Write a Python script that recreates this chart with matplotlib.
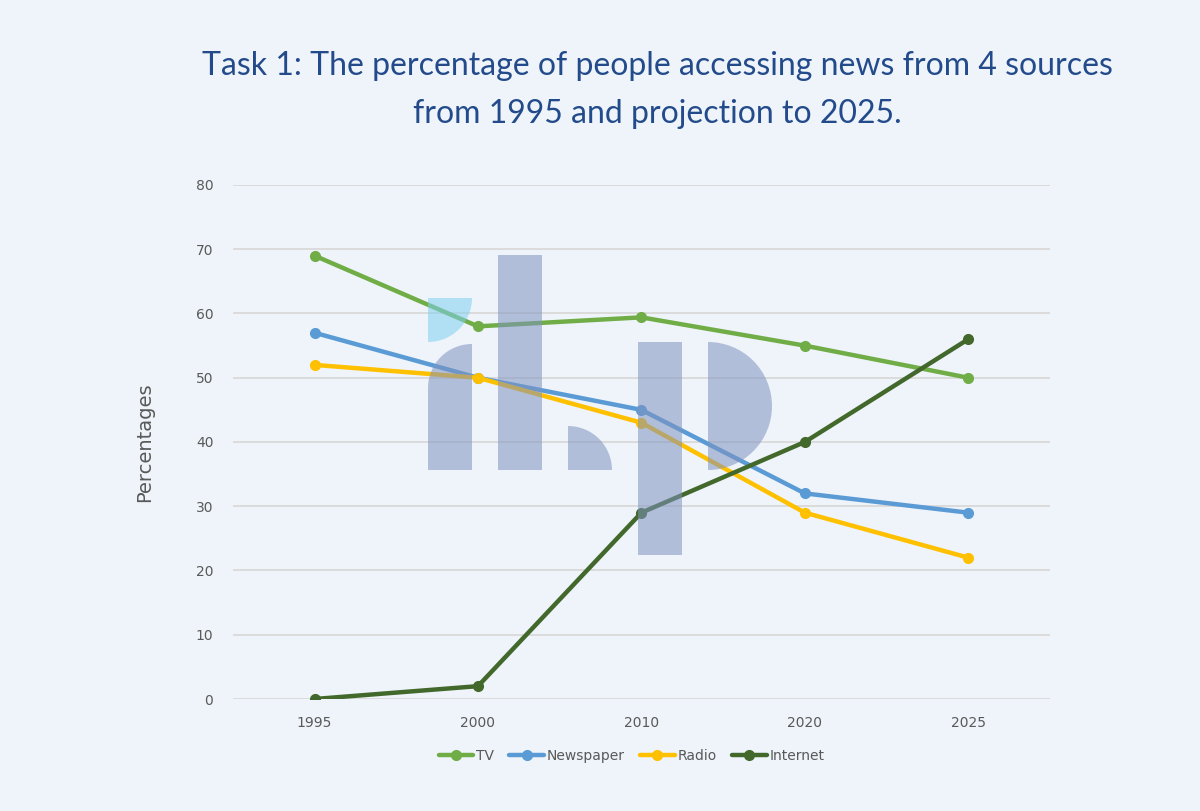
import matplotlib.pyplot as plt
from matplotlib.patches import Rectangle, Wedge
from matplotlib.transforms import Affine2D

years = ['1995', '2000', '2010', '2020', '2025']
tv = [69, 58, 59.4, 55, 50]
newspaper = [57, 50, 45, 32, 29]
radio = [52, 50, 43, 29, 22]
internet = [0, 2, 29, 40, 56]

series = [('TV', tv, '#70ad47'),
          ('Newspaper', newspaper, '#5b9bd5'),
          ('Radio', radio, '#ffc000'),
          ('Internet', internet, '#43682b')]

bg = '#eef4fa'
grey = '#595959'

fig = plt.figure(figsize=(12, 8.11), dpi=100, facecolor=bg)
ax = fig.add_axes([0.194, 0.1381, 0.681, 0.6338], facecolor=bg)

x = range(len(years))
for name, vals, col in series:
    ax.plot(x, vals, color=col, lw=3.2, marker='o', ms=7, label=name,
            solid_capstyle='round')

ax.set_xlim(-0.5, len(years) - 0.5)
ax.set_ylim(0, 80)
ax.set_yticks(range(0, 81, 10))
ax.set_xticks(list(x))
ax.set_xticklabels(years)
ax.tick_params(length=0, labelsize=10, colors=grey, pad=12)
ax.tick_params(axis='y', pad=14)
ax.grid(axis='y', color='#d9d9d9', lw=1.3)
ax.set_axisbelow(True)
for s in ax.spines.values():
    s.set_visible(False)
ax.set_ylabel('Percentages', fontsize=14, color=grey, labelpad=30)

ax.legend(loc='upper center', bbox_to_anchor=(0.488, -0.073), ncol=4,
          frameon=False, fontsize=10, labelcolor=grey, handlelength=2.5,
          handletextpad=0.2, columnspacing=1.1)

fig.text(0.548, 0.919, 'Task 1: The percentage of people accessing news from 4 sources',
         ha='center', va='center', fontsize=23, color='#234b8b', family='Lato')
fig.text(0.548, 0.860, 'from 1995 and projection to 2025.',
         ha='center', va='center', fontsize=23, color='#234b8b', family='Lato')

# watermark logo, pixel coords from top-left
px = Affine2D().scale(1, -1).translate(0, 811)
wm = dict(color='#7f93c0', alpha=0.55, lw=0, transform=px)
fig.patches.extend([
    Wedge((428, 298), 44, 0, 90, color='#7fd0f0', alpha=0.55, lw=0, transform=px),
    Rectangle((428, 388), 44, 82, **wm),
    Wedge((472, 388), 44, 180, 270, **wm),
    Rectangle((498, 255), 44, 215, **wm),
    Wedge((568, 470), 44, 270, 360, **wm),
    Rectangle((638, 342), 44, 213, **wm),
    Wedge((708, 406), 64, -90, 90, **wm),
])

fig.savefig('out.png', dpi=100, facecolor=bg)
